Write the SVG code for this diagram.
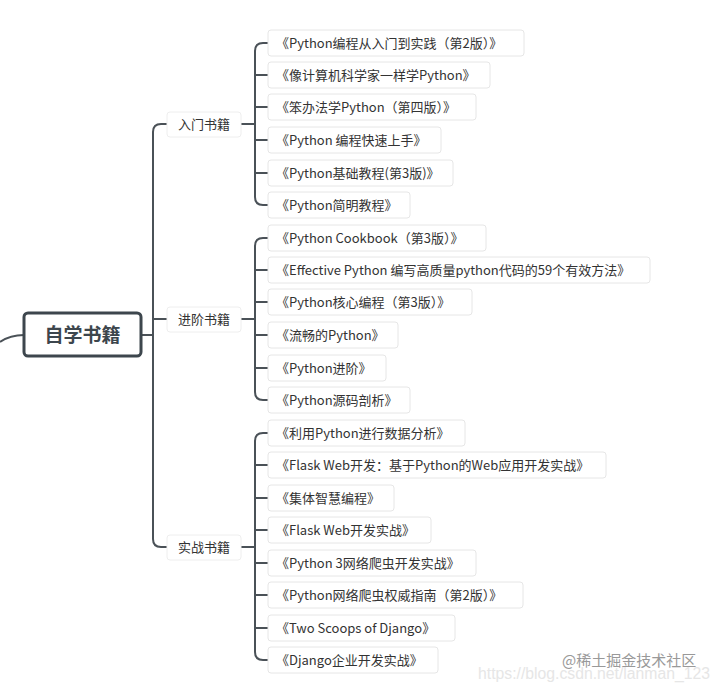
<svg xmlns="http://www.w3.org/2000/svg" width="715" height="689" viewBox="0 0 715 689">
<style>
.c{fill:none;stroke:#4a5157;stroke-width:2}
.leaf rect{fill:#fff;stroke:#e6e6e6;stroke-width:1}
.sub rect{fill:#fff;stroke:#eeeeee;stroke-width:1}
text{font-family:"Microsoft YaHei","Noto Sans CJK SC",sans-serif;font-size:13px;fill:#333}
</style>
<rect width="715" height="689" fill="#fff"/>
<g id="connectors">
<path class="c" d="M0 342 Q10 335 24 335"/>
<path class="c" d="M141 335 H153 M167 124 H161 Q153 124 153 132 V539 Q153 547 161 547 H167 M153 319 H167"/>
<path class="c" d="M241 124 H255 M268 43 H263 Q255 43 255 51 V197 Q255 205 263 205 H268 M255 75 H268 M255 107 H268 M255 140 H268 M255 173 H268"/>
<path class="c" d="M241 319 H255 M268 238 H263 Q255 238 255 246 V392 Q255 400 263 400 H268 M255 270 H268 M255 302 H268 M255 335 H268 M255 368 H268"/>
<path class="c" d="M241 547 H255 M268 433 H263 Q255 433 255 441 V652 Q255 660 263 660 H268 M255 465 H268 M255 498 H268 M255 530 H268 M255 563 H268 M255 595 H268 M255 628 H268"/>
</g>
<g id="root"><rect x="24" y="313" width="117" height="43" rx="4" fill="#fff" stroke="#3d464d" stroke-width="3"/><text x="82.5" y="342" text-anchor="middle" style="font-size:19px;font-weight:bold;fill:#3d464d">自学书籍</text></g>
<g id="b1" class="sub"><rect x="167" y="112" width="74" height="25" rx="3"/><text x="204" y="129" text-anchor="middle">入门书籍</text></g>
<g id="b2" class="sub"><rect x="167" y="307" width="74" height="25" rx="3"/><text x="204" y="324" text-anchor="middle">进阶书籍</text></g>
<g id="b3" class="sub"><rect x="167" y="535" width="74" height="25" rx="3"/><text x="204" y="552" text-anchor="middle">实战书籍</text></g>
<g id="l1" class="leaf"><rect x="268" y="30" width="256" height="26" rx="3"/><text x="276" y="48">《Python编程从入门到实践（第2版）》</text></g>
<g id="l2" class="leaf"><rect x="268" y="62" width="222" height="26" rx="3"/><text x="276" y="80">《像计算机科学家一样学Python》</text></g>
<g id="l3" class="leaf"><rect x="268" y="94" width="208" height="26" rx="3"/><text x="276" y="112">《笨办法学Python（第四版）》</text></g>
<g id="l4" class="leaf"><rect x="268" y="127" width="173" height="26" rx="3"/><text x="276" y="145">《Python 编程快速上手》</text></g>
<g id="l5" class="leaf"><rect x="268" y="160" width="185" height="26" rx="3"/><text x="276" y="178">《Python基础教程(第3版)》</text></g>
<g id="l6" class="leaf"><rect x="268" y="192" width="142" height="26" rx="3"/><text x="276" y="210">《Python简明教程》</text></g>
<g id="l7" class="leaf"><rect x="268" y="225" width="218" height="26" rx="3"/><text x="276" y="243">《Python Cookbook（第3版）》</text></g>
<g id="l8" class="leaf"><rect x="268" y="257" width="382" height="26" rx="3"/><text x="276" y="275">《Effective Python 编写高质量python代码的59个有效方法》</text></g>
<g id="l9" class="leaf"><rect x="268" y="289" width="204" height="26" rx="3"/><text x="276" y="307">《Python核心编程（第3版）》</text></g>
<g id="l10" class="leaf"><rect x="268" y="322" width="130" height="26" rx="3"/><text x="276" y="340">《流畅的Python》</text></g>
<g id="l11" class="leaf"><rect x="268" y="355" width="118" height="26" rx="3"/><text x="276" y="373">《Python进阶》</text></g>
<g id="l12" class="leaf"><rect x="268" y="387" width="142" height="26" rx="3"/><text x="276" y="405">《Python源码剖析》</text></g>
<g id="l13" class="leaf"><rect x="268" y="420" width="197" height="26" rx="3"/><text x="276" y="438">《利用Python进行数据分析》</text></g>
<g id="l14" class="leaf"><rect x="268" y="452" width="338" height="26" rx="3"/><text x="276" y="470">《Flask Web开发：基于Python的Web应用开发实战》</text></g>
<g id="l15" class="leaf"><rect x="268" y="485" width="126" height="26" rx="3"/><text x="276" y="503">《集体智慧编程》</text></g>
<g id="l16" class="leaf"><rect x="268" y="517" width="163" height="26" rx="3"/><text x="276" y="535">《Flask Web开发实战》</text></g>
<g id="l17" class="leaf"><rect x="268" y="550" width="208" height="26" rx="3"/><text x="276" y="568">《Python 3网络爬虫开发实战》</text></g>
<g id="l18" class="leaf"><rect x="268" y="582" width="255" height="26" rx="3"/><text x="276" y="600">《Python网络爬虫权威指南（第2版）》</text></g>
<g id="l19" class="leaf"><rect x="268" y="615" width="187" height="26" rx="3"/><text x="276" y="633">《Two Scoops of Django》</text></g>
<g id="l20" class="leaf"><rect x="268" y="647" width="170" height="26" rx="3"/><text x="276" y="665">《Django企业开发实战》</text></g>
<text x="478" y="679" textLength="232" lengthAdjust="spacingAndGlyphs" style="font-family:'Liberation Sans',sans-serif;font-size:16px;fill:#e6e6e6">https://blog.csdn.net/lanman_123</text>
<text x="562" y="666" style="font-size:15px;fill:#999">@稀土掘金技术社区</text>
</svg>
